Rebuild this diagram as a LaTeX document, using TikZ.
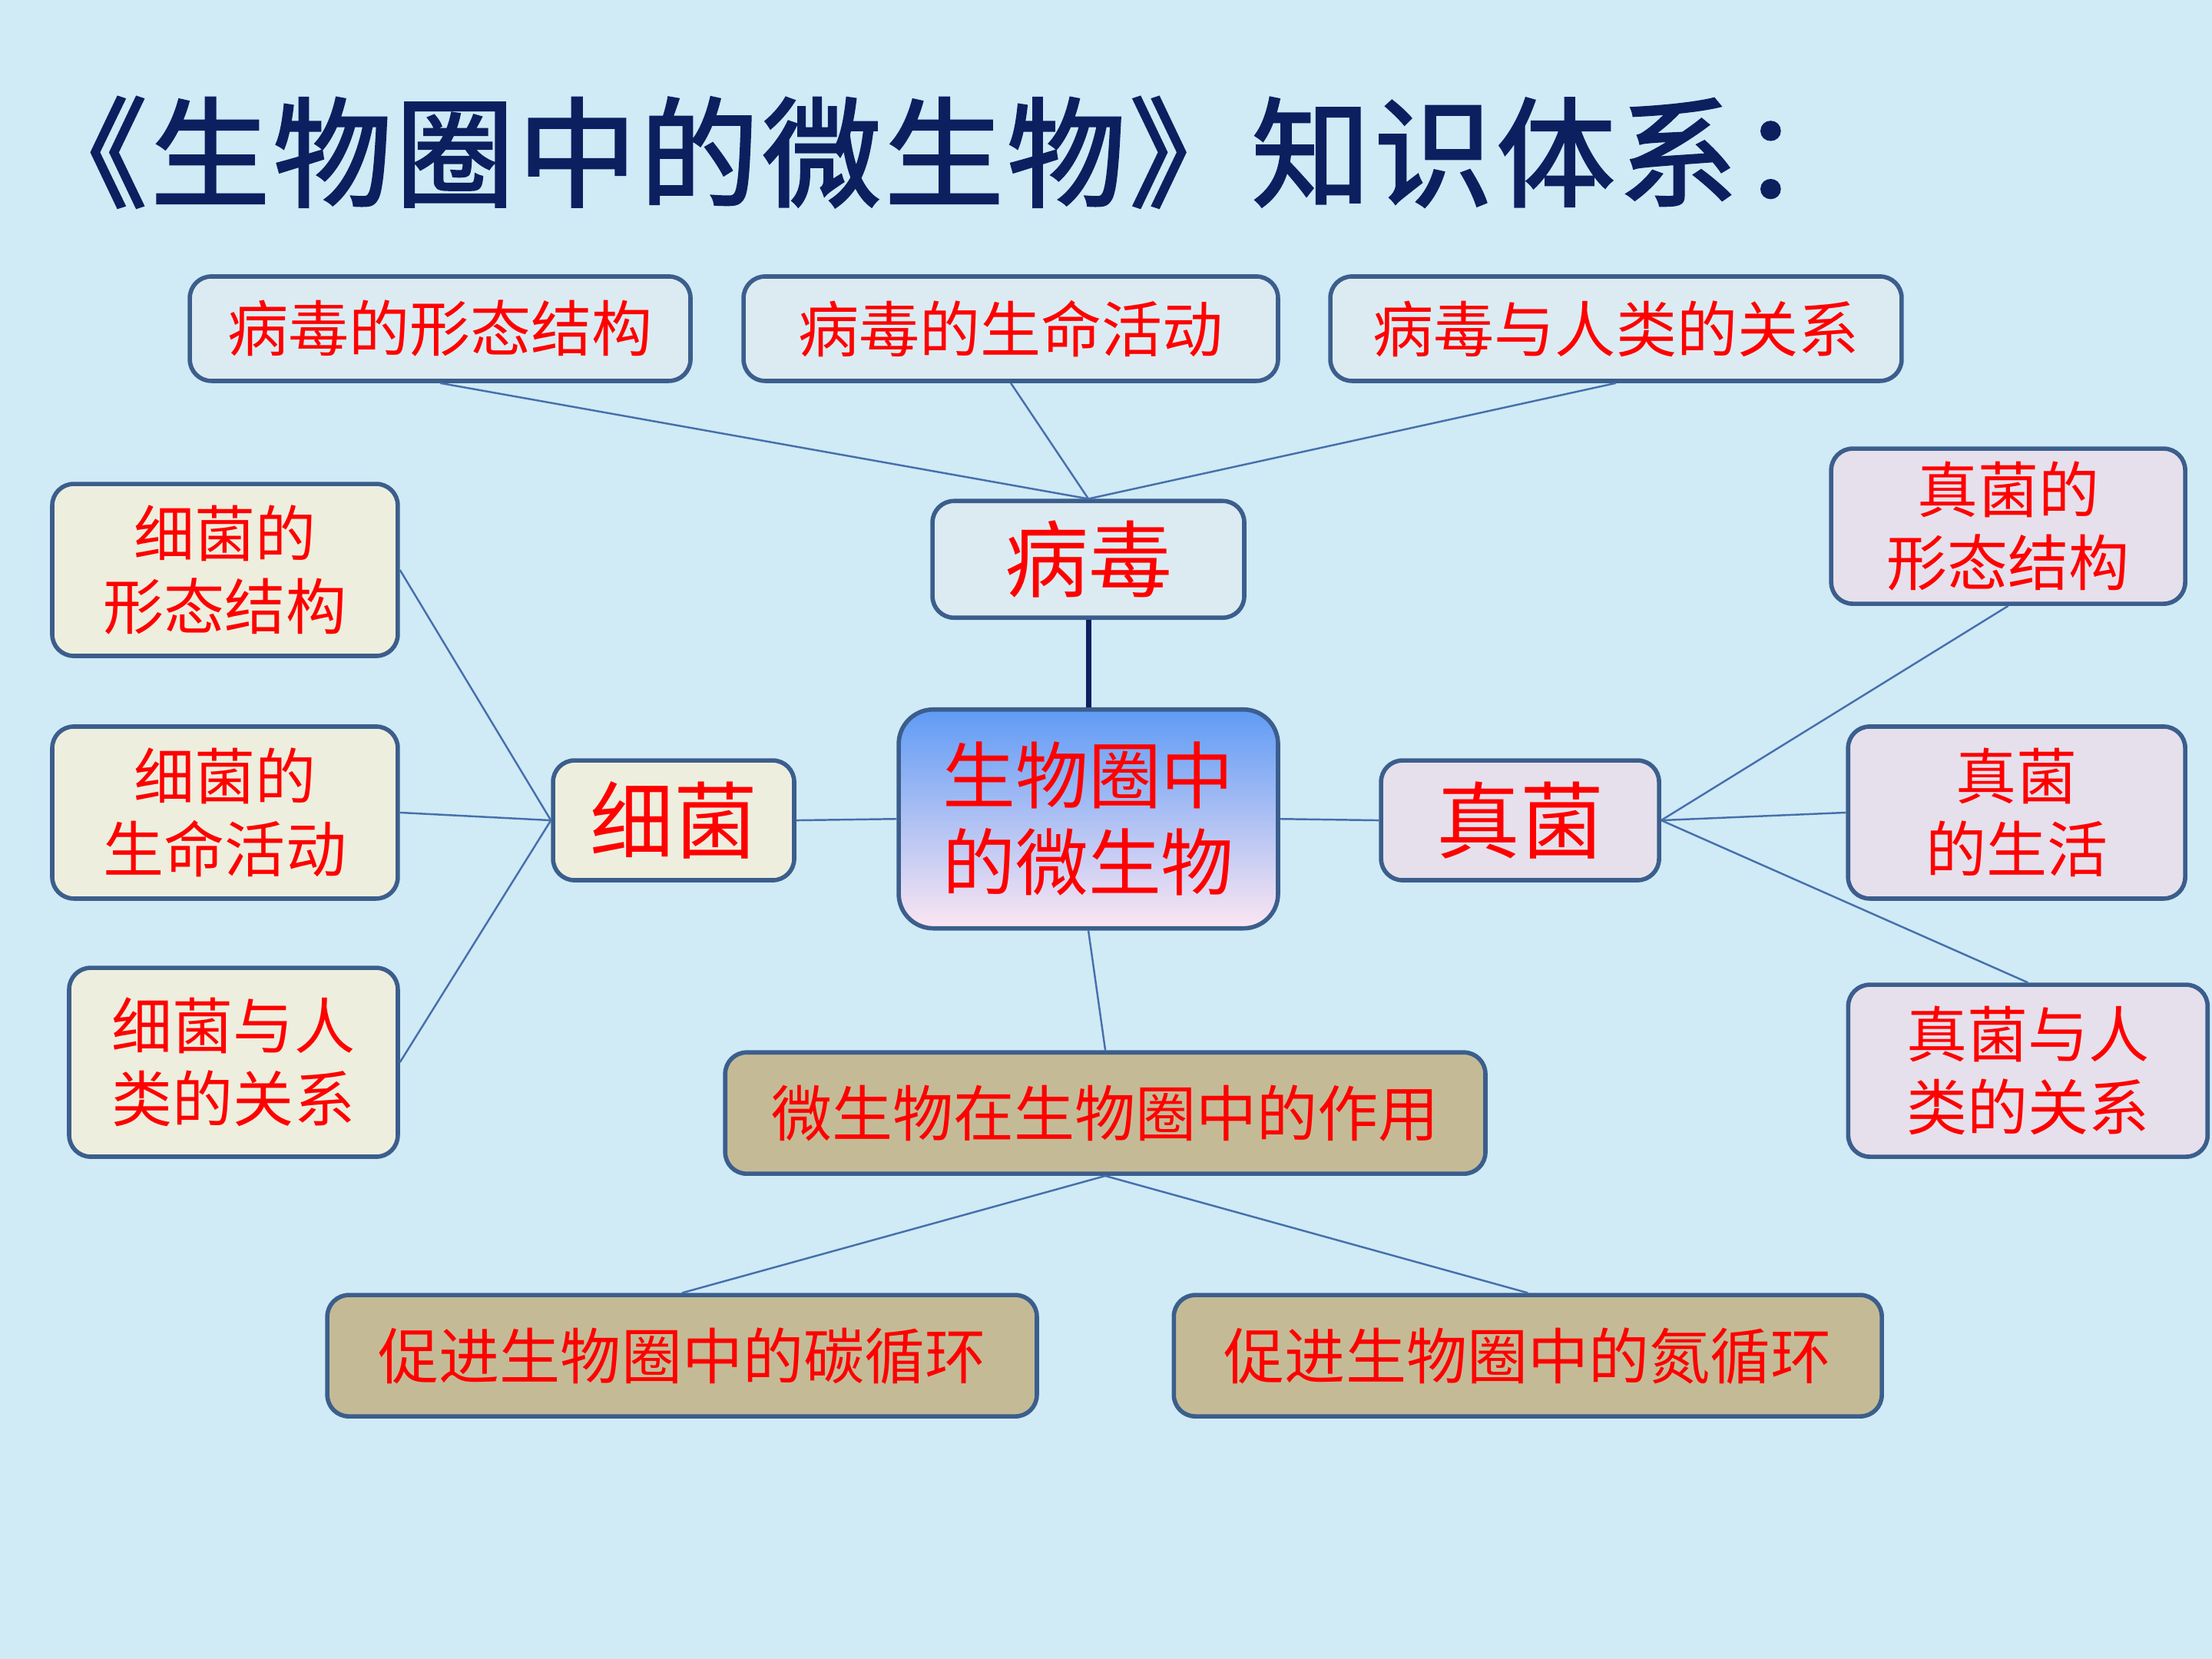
\documentclass[tikz,border=0pt]{standalone}
\usepackage{fontspec}
\newfontfamily\cjk{Noto Sans CJK SC}
\newfontfamily\cjktitle[FakeBold=2,LetterSpace=3]{Noto Sans CJK SC}
\definecolor{bgblue}{RGB}{208,234,246}
\definecolor{boxline}{RGB}{59,94,140}
\definecolor{linkblue}{RGB}{70,112,172}
\definecolor{navy}{RGB}{12,32,96}
\definecolor{virusfill}{RGB}{220,235,242}
\definecolor{germfill}{RGB}{238,238,222}
\definecolor{fungusfill}{RGB}{230,224,236}
\definecolor{rolefill}{RGB}{196,187,150}
\definecolor{midtop}{RGB}{95,155,245}
\definecolor{midmid}{RGB}{172,212,250}
\definecolor{midbot}{RGB}{252,230,242}
\begin{document}
\begin{tikzpicture}[x=0.018367cm,y=-0.018367cm,
    box/.style={draw=boxline,line width=1.6pt,rounded corners=0.28cm,inner sep=0pt,
      text=red,align=center,font=\cjk\fontsize{22.5}{27}\selectfont},
    virus/.style={box,fill=virusfill},
    germ/.style={box,fill=germfill},
    fungus/.style={box,fill=fungusfill},
    role/.style={box,fill=rolefill},
    bigword/.style={font=\cjk\fontsize{31}{36}\selectfont},
    link/.style={draw=linkblue,line width=0.7pt}]
  \useasboundingbox[fill=bgblue] (0,0) rectangle (1568,1176);
  \node[anchor=west,inner sep=0pt,text=navy,font=\cjktitle\fontsize{44}{50}\selectfont] (title) at (20,108) {《生物圈中的微生物》知识体系：};
  % center
  \node[box,rounded corners=0.45cm,top color=midtop,middle color=midmid,bottom color=midbot,
    minimum width=4.94cm,minimum height=2.85cm,font=\cjk\fontsize{27}{32}\selectfont] (mid) at (771.5,580.5) {生物圈中\\的微生物};
  % virus
  \node[virus,bigword,minimum width=4.06cm,minimum height=1.52cm] (virus) at (771.5,396.5) {病毒};
  \node[virus,minimum width=6.52cm,minimum height=1.36cm] (v1) at (312,233) {病毒的形态结构};
  \node[virus,minimum width=6.96cm,minimum height=1.36cm] (v2) at (716.5,233) {病毒的生命活动};
  \node[virus,minimum width=7.44cm,minimum height=1.36cm] (v3) at (1145.5,233) {病毒与人类的关系};
  % bacteria
  \node[germ,bigword,minimum width=3.14cm,minimum height=1.56cm] (germ) at (477.5,581.5) {细菌};
  \node[germ,minimum width=4.50cm,minimum height=2.24cm] (g1) at (159.5,404) {细菌的\\形态结构};
  \node[germ,minimum width=4.50cm,minimum height=2.24cm] (g2) at (159.5,576) {细菌的\\生命活动};
  \node[germ,minimum width=4.28cm,minimum height=2.46cm] (g3) at (165.5,753) {细菌与人\\类的关系};
  % fungi
  \node[fungus,bigword,minimum width=3.62cm,minimum height=1.56cm] (fungus) at (1077.5,581.5) {真菌};
  \node[fungus,minimum width=4.61cm,minimum height=2.02cm] (f1) at (1423.5,373) {真菌的\\形态结构};
  \node[fungus,minimum width=4.39cm,minimum height=2.24cm] (f2) at (1429.5,576) {真菌\\的生活};
  \node[fungus,minimum width=4.68cm,minimum height=2.24cm] (f3) at (1437.5,759) {真菌与人\\类的关系};
  % role
  \node[role,minimum width=9.90cm,minimum height=1.58cm] (role) at (783.5,789) {微生物在生物圈中的作用};
  \node[role,minimum width=9.24cm,minimum height=1.58cm] (r1) at (483.5,961) {促进生物圈中的碳循环};
  \node[role,minimum width=9.22cm,minimum height=1.58cm] (r2) at (1083,961) {促进生物圈中的氮循环};
  % links
  \draw[navy,line width=2pt] (virus) -- (mid);
  \path[link]
    (v1.south) edge (virus.north)
    (v2.south) edge (virus.north)
    (v3.south) edge (virus.north)
    (germ.west) edge (g1.east)
    (germ.west) edge (g2.east)
    (germ.west) edge (g3.east)
    (mid.west) edge (germ.east)
    (mid.east) edge (fungus.west)
    (fungus.east) edge (f1.south)
    (fungus.east) edge (f2.west)
    (fungus.east) edge (f3.north)
    (mid.south) edge (role.north)
    (role.south) edge (r1.north)
    (role.south) edge (r2.north);
\end{tikzpicture}
\end{document}
